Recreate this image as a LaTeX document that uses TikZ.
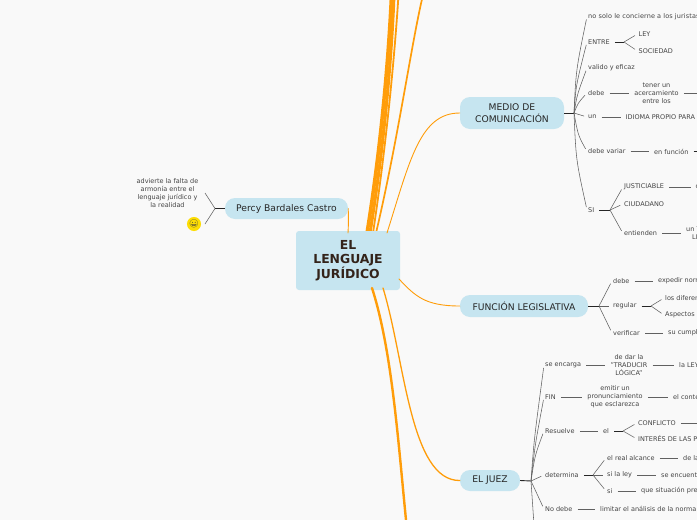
\documentclass[tikz,border=0pt]{standalone}
\usepackage{fontspec}
\setmainfont{DejaVu Sans}
\newfontfamily\emojifont{Noto Emoji}
\usetikzlibrary{positioning}

\definecolor{bgGrey}{HTML}{F9F9F9}
\definecolor{nodeBlue}{HTML}{C6E5F0}
\definecolor{branchOrange}{HTML}{FF9D0A}
\definecolor{leafGrey}{HTML}{444444}
\definecolor{rootBrown}{HTML}{33231A}

\tikzset{
    rootbox/.style={fill=nodeBlue, rounded corners=3pt, minimum width=104pt, minimum height=59pt, align=center, inner sep=0pt, font=\bfseries\fontsize{12.4}{14.3}\selectfont, text=rootBrown},
    topicbox/.style={fill=nodeBlue, rounded corners=10pt, inner sep=0pt, align=center, font=\fontsize{9.2}{11.5}\selectfont, text=black!85},
    leaf/.style={inner sep=1pt, align=center, font=\fontsize{6.5}{8}\selectfont, text=leafGrey},
    tip/.style={leaf, anchor=west},
    loose/.style={font=\fontsize{6.5}{8}\selectfont\addfontfeature{LetterSpace=1.8}},
    fan/.style={draw=black!62, line width=0.55pt, shorten >=3pt},
    link/.style={draw=black!62, line width=0.55pt, shorten <=4pt, shorten >=4pt},
    stem/.style={draw=black!85, line width=0.9pt, shorten <=4pt},
    limb/.style={draw=branchOrange, line cap=round},
}

\begin{document}
\begin{tikzpicture}[x=1pt, y=-1pt]
    \useasboundingbox[fill=bgGrey] (0, 0) rectangle (697, 520);
    \clip (0, 0) rectangle (697, 520);

    % Free ends off the page
    \coordinate (upA) at (391.5, -5);
    \coordinate (upB) at (394, -5);
    \coordinate (upC) at (398.5, -5);
    \coordinate (upD) at (423, -5);
    \coordinate (downA) at (406.5, 525);

    % Orange branches
    \coordinate (rootA) at (367, 233);
    \coordinate (rootB) at (370, 233);
    \coordinate (rootC) at (373, 233);
    \coordinate (rootD) at (376, 233);
    \coordinate (rootE) at (387, 233);
    \coordinate (rootF) at (399, 279);
    \coordinate (rootG) at (372, 288);
    \coordinate (rootH) at (383, 288);
    \coordinate (rootP) at (348, 233);
    \draw[limb, line width=3.5pt] (rootA) .. controls (382, 140) and (389, 50) .. (upA);
    \draw[limb, line width=3pt] (rootB) .. controls (385, 140) and (392, 50) .. (upB);
    \draw[limb, line width=1.8pt] (rootC) .. controls (387, 140) and (395, 50) .. (upC);
    \draw[limb, line width=1.7pt] (rootD) .. controls (398, 140) and (412, 40) .. (upD);

    % Root and topics
    \node[rootbox] (root) at (348, 260.5) {\raisebox{-3pt}{\parbox{100pt}{\centering EL\\LENGUAJE\\JURÍDICO}}};
    \node[topicbox, minimum width=104pt, minimum height=32pt] (medio) at (512, 113) {MEDIO DE\\COMUNICACIÓN};
    \node[topicbox, minimum width=128pt, minimum height=22pt] (funcion) at (524, 306) {FUNCIÓN LEGISLATIVA};
    \node[topicbox, minimum width=60pt, minimum height=21pt] (juez) at (490, 480.5) {EL JUEZ};
    \node[topicbox, minimum width=123pt, minimum height=21pt] (percy) at (286.5, 208.5) {Percy Bardales Castro};

    \draw[limb, line width=0.9pt] (rootE) .. controls (410, 160) and (420, 113) .. (medio.west);
    \draw[limb, line width=0.9pt] (rootF) .. controls (415, 296) and (425, 306) .. (funcion.west);
    \draw[limb, line width=1.3pt] (rootH) .. controls (405, 360) and (410, 481) .. (juez.west);
    \draw[limb, line width=2.4pt] (rootG) .. controls (392, 350) and (398, 440) .. (downA);
    \draw[limb, line width=0.9pt] (percy.east) .. controls (348.5, 216) and (348.5, 225) .. (rootP);

    % Percy
    \coordinate (hubPercy) at (215, 208.5);
    \coordinate (endAdvierte) at (205, 193);
    \coordinate (endSmile) at (205, 224);
    \node[leaf] (advierte) at (167.5, 193) {advierte la falta de\\armonía entre el\\lenguaje jurídico y\\la realidad};
    \node[circle, fill=yellow!80!orange, inner sep=0.4pt, font=\emojifont\fontsize{8}{8}\selectfont, text=black!75] (smile) at (194, 224) {😀};
    \draw[stem, line width=0.7pt, shorten <=0pt] (percy.west) -- (hubPercy);
    \draw[fan, shorten >=0pt] (hubPercy) -- (endAdvierte);
    \draw[fan, shorten >=0pt] (hubPercy) -- (endSmile);

    % Medio de comunicacion
    \coordinate (hubMedio) at (574, 113);
    \coordinate (hubEntre) at (624, 42);
    \coordinate (hubSi) at (610, 210);
    \coordinate (tailTener) at (700, 93);
    \coordinate (tailFuncion) at (700, 151.5);
    \node[tip, loose] (noSolo) at (587, 16.5) {no solo le concierne a los juristas};
    \node[tip] (entre) at (587, 42) {ENTRE};
    \node[tip] (ley) at (637.5, 34) {LEY};
    \node[tip] (sociedad) at (637.5, 51) {SOCIEDAD};
    \node[tip] (valido) at (587, 68) {valido y eficaz};
    \node[tip] (debeM) at (587, 93) {debe};
    \node[leaf] (tener) at (656.5, 93) {tener un\\acercamiento\\entre los};
    \node[tip] (unM) at (587, 117) {un};
    \node[tip] (idioma) at (624.5, 117) {IDIOMA PROPIO PARA};
    \node[tip] (debeVar) at (587, 151.5) {debe variar};
    \node[tip] (enFuncion) at (653, 151.5) {en función};
    \node[tip] (si) at (587, 210) {SI};
    \node[tip] (justi) at (623, 187) {JUSTICIABLE};
    \node[tip] (justiNext) at (694.5, 187) {c};
    \node[tip] (ciudadano) at (623, 204) {CIUDADANO};
    \node[tip] (entienden) at (623, 233.5) {entienden};
    \node[tip, align=left] (unT) at (685, 233.5) {un T\\\hspace*{6pt}LE};
    \draw[stem] (medio.east) -- (hubMedio) [shorten <=0pt];
    \draw[fan] (hubMedio) .. controls (576, 70) .. (noSolo.west);
    \draw[fan] (hubMedio) .. controls (576, 85) .. (entre.west);
    \draw[fan] (hubMedio) .. controls (577, 95) .. (valido.west);
    \draw[fan] (hubMedio) .. controls (578, 103) .. (debeM.west);
    \draw[fan] (hubMedio) -- (unM.west);
    \draw[fan] (hubMedio) .. controls (578, 135) .. (debeVar.west);
    \draw[fan] (hubMedio) .. controls (576, 160) .. (si.west);
    \draw[stem] (entre.east) -- (hubEntre);
    \draw[fan] (hubEntre) -- (ley.west);
    \draw[fan] (hubEntre) -- (sociedad.west);
    \draw[link] (debeM.east) -- (tener.west);
    \draw[link, shorten >=0pt] (tener.east) -- (tailTener);
    \draw[link] (unM.east) -- (idioma.west);
    \draw[link] (debeVar.east) -- (enFuncion.west);
    \draw[stem, shorten >=0pt] (enFuncion.east) -- (tailFuncion);
    \draw[stem] (si.east) -- (hubSi);
    \draw[fan] (hubSi) -- (justi.west);
    \draw[fan] (hubSi) -- (ciudadano.west);
    \draw[fan] (hubSi) -- (entienden.west);
    \draw[link] (justi.east) -- (justiNext.west);
    \draw[link] (entienden.east) -- (unT.west);

    % Funcion legislativa
    \coordinate (hubFuncion) at (599, 306);
    \coordinate (hubRegular) at (651, 306);
    \node[tip] (debeF) at (612, 281) {debe};
    \node[tip] (expedir) at (657, 281) {expedir norm};
    \node[tip] (regular) at (612, 306) {regular};
    \node[tip] (diferen) at (664, 298) {los diferen};
    \node[tip] (aspectos) at (664, 315) {Aspectos};
    \node[tip] (verificar) at (612, 333) {verificar};
    \node[tip] (cumpli) at (667, 333) {su cumpli};
    \draw[stem, shorten <=0pt] (funcion.east) -- (hubFuncion);
    \draw[fan] (hubFuncion) -- (debeF.west);
    \draw[fan] (hubFuncion) -- (regular.west);
    \draw[fan] (hubFuncion) -- (verificar.west);
    \draw[link] (debeF.east) -- (expedir.west);
    \draw[stem] (regular.east) -- (hubRegular);
    \draw[fan] (hubRegular) -- (diferen.west);
    \draw[fan] (hubRegular) -- (aspectos.west);
    \draw[link] (verificar.east) -- (cumpli.west);

    % El juez
    \coordinate (hubJuez) at (531, 481);
    \coordinate (hubResuelve) at (623, 431);
    \coordinate (hubDetermina) at (593, 475);
    \coordinate (tailConflicto) at (700, 423);
    \coordinate (tailJuez) at (534, 525);
    \node[tip] (encarga) at (544, 365) {se encarga};
    \node[leaf] (dar) at (629, 365) {de dar la\\"TRADUCIR\\LÓGICA"};
    \node[tip] (leyJ) at (678, 365) {la LEY};
    \node[tip] (fin) at (544, 397) {FIN};
    \node[leaf] (emitir) at (615, 397) {emitir un\\pronunciamiento\\que esclarezca};
    \node[tip] (conte) at (672, 397) {el conte};
    \node[tip] (resuelve) at (544, 431) {Resuelve};
    \node[tip] (elJ) at (602, 431) {el};
    \node[tip] (conflicto) at (637, 423) {CONFLICTO};
    \node[tip] (interes) at (637, 439) {INTERÉS DE LAS P};
    \node[tip] (determina) at (544, 475) {determina};
    \node[tip] (alcance) at (606, 458) {el real alcance};
    \node[tip] (deLa) at (682, 458) {de la};
    \node[tip] (siLey) at (606, 475) {si la ley};
    \node[tip] (encuent) at (660, 475) {se encuent};
    \node[tip] (siJ) at (606, 491) {si};
    \node[tip] (situacion) at (640, 491) {que situación pre};
    \node[tip] (noDebe) at (544, 509) {No debe};
    \node[tip] (limitar) at (599, 509) {limitar el análisis de la norma};
    \draw[stem, shorten <=0pt] (juez.east) -- (hubJuez);
    \draw[fan] (hubJuez) .. controls (534, 440) .. (encarga.west);
    \draw[fan] (hubJuez) .. controls (535, 445) .. (fin.west);
    \draw[fan] (hubJuez) .. controls (535, 455) .. (resuelve.west);
    \draw[fan] (hubJuez) -- (determina.west);
    \draw[fan] (hubJuez) -- (noDebe.west);
    \draw[fan, shorten >=0pt] (hubJuez) -- (tailJuez);
    \draw[link] (encarga.east) -- (dar.west);
    \draw[link] (dar.east) -- (leyJ.west);
    \draw[link] (fin.east) -- (emitir.west);
    \draw[link] (emitir.east) -- (conte.west);
    \draw[link] (resuelve.east) -- (elJ.west);
    \draw[stem] (elJ.east) -- (hubResuelve);
    \draw[fan] (hubResuelve) -- (conflicto.west);
    \draw[fan] (hubResuelve) -- (interes.west);
    \draw[link, shorten >=0pt] (conflicto.east) -- (tailConflicto);
    \draw[stem] (determina.east) -- (hubDetermina);
    \draw[fan] (hubDetermina) -- (alcance.west);
    \draw[fan] (hubDetermina) -- (siLey.west);
    \draw[fan] (hubDetermina) -- (siJ.west);
    \draw[link] (alcance.east) -- (deLa.west);
    \draw[link] (siLey.east) -- (encuent.west);
    \draw[link] (siJ.east) -- (situacion.west);
    \draw[link] (noDebe.east) -- (limitar.west);
\end{tikzpicture}
\end{document}
